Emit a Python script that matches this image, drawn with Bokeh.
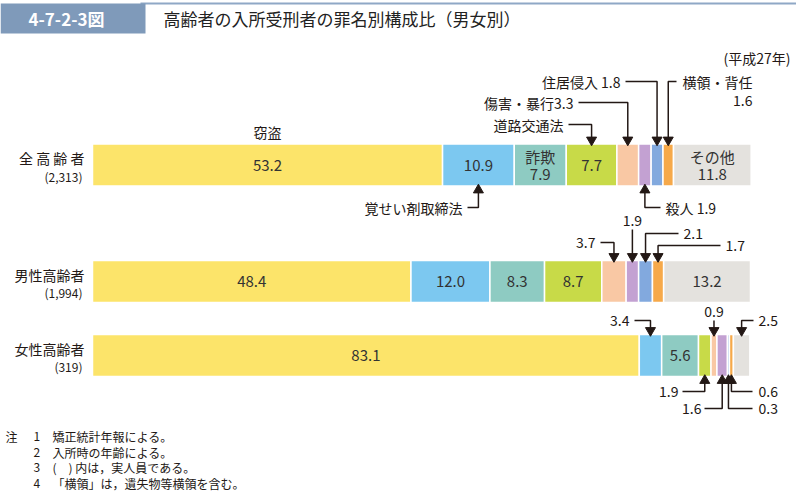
from bokeh.plotting import figure
from bokeh.models import Range1d
from bokeh.core.properties import value
from bokeh.embed import file_html
from bokeh.resources import INLINE

# ---------------- data ----------------
categories = ["窃盗", "覚せい剤取締法", "詐欺", "道路交通法", "傷害・暴行",
              "殺人", "住居侵入", "横領・背任", "その他"]
group_names = ["全 高 齢 者", "男性高齢者", "女性高齢者"]
group_counts = ["(2,313)", "(1,994)", "(319)"]
all_vals = [53.2, 10.9, 7.9, 7.7, 3.3, 1.9, 1.8, 1.6, 11.8]
male_vals = [48.4, 12.0, 8.3, 8.7, 3.7, 1.9, 2.1, 1.7, 13.2]
female_vals = [83.1, 3.4, 5.6, 1.9, 0.9, 1.6, 0.3, 0.6, 2.5]
rows = [all_vals, male_vals, female_vals]

title_no = "4-7-2-3図"
title_text = "高齢者の入所受刑者の罪名別構成比（男女別）"
year_text = "(平成27年)"
notes = [("注", "1", "矯正統計年報による。"),
         ("", "2", "入所時の年齢による。"),
         ("", "3", "(　) 内は，実人員である。"),
         ("", "4", "「横領」は，遺失物等横領を含む。")]

# ---------------- styles / layout ----------------
colors = ["#fce46a", "#7cc8f0", "#8ecbc2", "#c8da48", "#f9c8a4",
          "#c3a1d2", "#82a9de", "#f6a94a", "#e4e2de"]
FONT = value("Noto Sans CJK JP")
INK = "#231815"
W, H = 796, 492
OFF = 0            # reference px -> figure px
PX = 6.58          # pixels per percent
X0 = 92 - OFF      # pixel position of 0 %
row_y = [164.5 - OFF, 281 - OFF, 355 - OFF]
BAR_H = 42

def pct(px_ref):
    return (px_ref - OFF - X0) / PX

p = figure(width=W, height=H, output_backend="svg", toolbar_location=None,
           x_range=Range1d(-X0 / PX, (W - X0) / PX), y_range=Range1d(H, 0),
           x_axis_type=None, y_axis_type=None, min_border=0)
p.outline_line_color = None
p.extra_x_ranges = {"px": Range1d(0, W)}

def txt(x, y, s, size="14px", align="left", color=INK, style="normal",
        rng="default"):
    p.text(x=[x], y=[y], text=[s], text_font=FONT, text_font_size=size,
           text_align=align, text_baseline="middle", text_color=color,
           text_font_style=style, x_range_name=rng)

# ---------------- header ----------------
p.line(x=[140, W], y=[3, 3], line_color="#8fa8c6", line_width=2, x_range_name="px")
p.quad(left=[0], right=[145], top=[3], bottom=[33], fill_color="#7f9aba",
       line_color=None, x_range_name="px")
txt(28, 18, title_no, size="17px", color="white", style="bold", rng="px")
txt(163, 18, title_text, size="17px", color="#222222", rng="px")
txt(790, 57, year_text, size="14px", align="right", rng="px")

# ---------------- bars ----------------
lefts_all = []
for r, vals in enumerate(rows):
    lefts, acc = [], 0.0
    for v in vals:
        lefts.append(acc)
        acc += v
    lefts_all.append(lefts)
    rights = [l + v for l, v in zip(lefts, vals)]
    p.hbar(y=[row_y[r]] * len(vals), left=lefts, right=rights, height=BAR_H,
           fill_color=colors, line_color="white", line_width=1.5)
    txt(-8 / PX, row_y[r] - 7, group_names[r], size="14px", align="right")
    txt(-10 / PX, row_y[r] + 11, group_counts[r], size="12px", align="right")

def center(r, s):
    return lefts_all[r][s] + rows[r][s] / 2

# inside labels: (row, segment, caption above number)
inside = [(0, 0, None), (0, 1, None), (0, 2, "詐欺"), (0, 3, None), (0, 8, "その他"),
          (1, 0, None), (1, 1, None), (1, 2, None), (1, 3, None), (1, 8, None),
          (2, 0, None), (2, 2, None)]
for r, s, cap in inside:
    num = f"{rows[r][s]:.1f}"
    if cap:
        txt(center(r, s), row_y[r] - 9, cap, size="15px", align="center", color="#333333")
        txt(center(r, s), row_y[r] + 9, num, size="15px", align="center", color="#333333")
    else:
        txt(center(r, s), row_y[r], num, size="15px", align="center", color="#333333")

# label above 窃盗
txt(center(0, 0), 131 - OFF, categories[0], size="14px", align="center")

# ---------------- callouts ----------------
# (row, segment, side, text, text_x_ref, text_y_ref, align, line_start_x_ref)
callouts = [
    (0, 1, "bottom", categories[1], 462, 207, "right", 467),
    (0, 3, "top", categories[3], 563, 124, "right", 568),
    (0, 4, "top", f"{categories[4]}{all_vals[4]}", 573, 102, "right", 578),
    (0, 6, "top", f"{categories[6]} {all_vals[6]}", 620, 81, "right", 625),
    (0, 5, "bottom", f"{categories[5]} {all_vals[5]}", 665, 207, "left", 660),
    (0, 7, "top", categories[7], 682, 81, "left", 676),
    (1, 4, "top", f"{male_vals[4]}", 595, 242, "right", 600),
    (1, 5, "top", f"{male_vals[5]}", None, 220, "center", None),
    (1, 6, "top", f"{male_vals[6]}", 683, 233, "left", 678),
    (1, 7, "top", f"{male_vals[7]}", 725, 245, "left", 720),
    (2, 1, "top", f"{female_vals[1]}", 629, 320, "right", 634),
    (2, 4, "top", f"{female_vals[4]}", None, 311, "center", None),
    (2, 8, "top", f"{female_vals[8]}", 758, 320, "left", 753),
    (2, 3, "bottom", f"{female_vals[3]}", 678, 391, "right", 682),
    (2, 5, "bottom", f"{female_vals[5]}", 701, 408, "right", 704),
    (2, 7, "bottom", f"{female_vals[7]}", 758, 391, "left", 752),
    (2, 6, "bottom", f"{female_vals[6]}", 758, 408, "left", 752),
]
# second line for 横領・背任
txt(pct(752), 100 - OFF, f"{all_vals[7]}", size="14px", align="right")

xs, ys = [], []
up_x, up_y, dn_x, dn_y = [], [], [], []
for r, s, side, label, tx, ty, align, sx in callouts:
    cx = center(r, s)
    tyf = ty - OFF
    if side == "top":
        edge = row_y[r] - BAR_H / 2
        head = edge - 4
        dn_x.append(cx); dn_y.append(head)
    else:
        edge = row_y[r] + BAR_H / 2
        head = edge + 4
        up_x.append(cx); up_y.append(head)
    if sx is None:
        txt(cx, tyf, label, size="14px", align="center")
        xs.append([cx, cx]); ys.append([tyf + 9, head])
    else:
        txt(pct(tx), tyf, label, size="14px", align=align)
        xs.append([pct(sx), cx, cx]); ys.append([tyf, tyf, head])

p.multi_line(xs=xs, ys=ys, line_color=INK, line_width=1.5)
p.scatter(x=dn_x, y=dn_y, marker="inverted_triangle", size=10,
          fill_color=INK, line_color=INK)
p.scatter(x=up_x, y=up_y, marker="triangle", size=10,
          fill_color=INK, line_color=INK)

# ---------------- notes ----------------
for i, (a, b, c) in enumerate(notes):
    y = 436 + 15.5 * i
    if a:
        txt(5, y, a, size="12px", rng="px")
    txt(33, y, b, size="12px", rng="px")
    txt(52, y, c, size="12px", rng="px")

open("out.html", "w").write(file_html(p, INLINE))
